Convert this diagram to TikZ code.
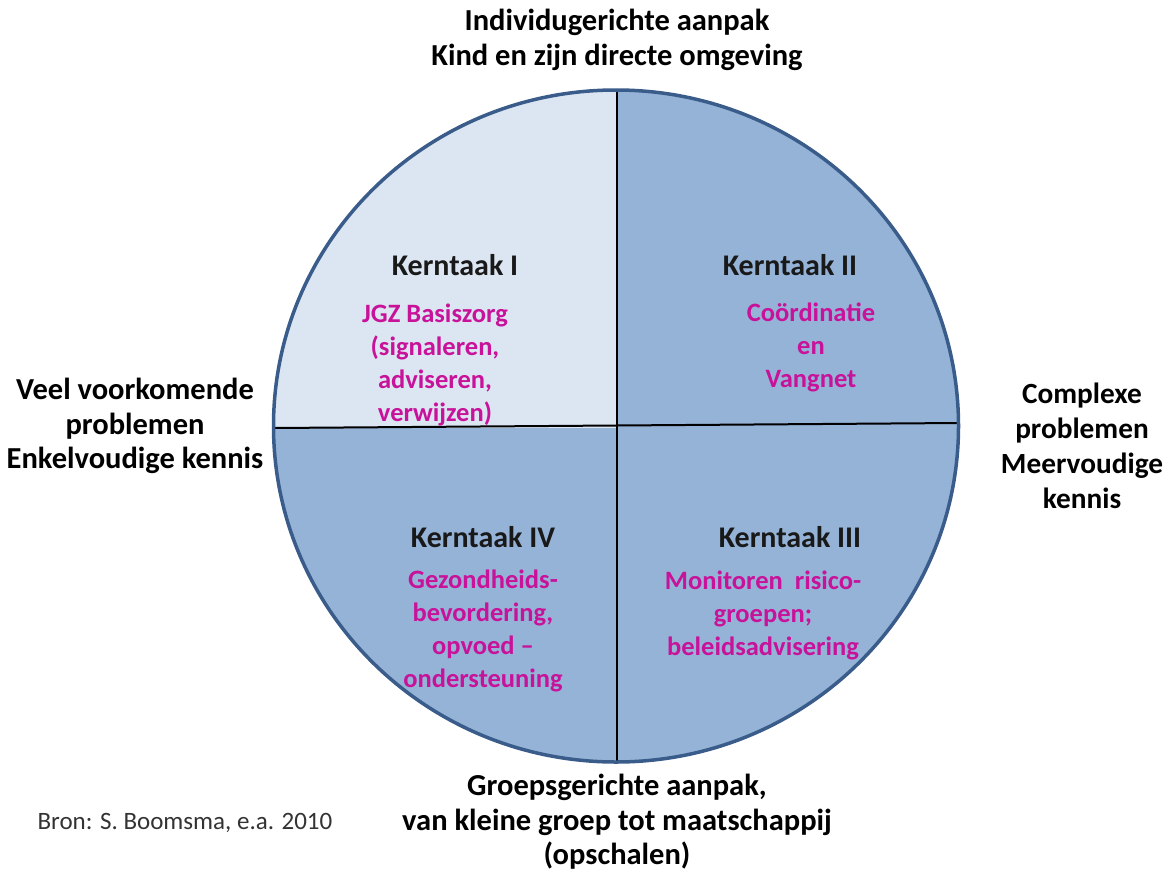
\documentclass[tikz,border=0pt]{standalone}
\usepackage{fontspec}
\setmainfont{Carlito}
\definecolor{lightq}{HTML}{DCE6F2}
\definecolor{darkq}{HTML}{95B3D7}
\definecolor{rim}{HTML}{3A5C8A}
\definecolor{mag}{HTML}{C8129A}
\tikzset{
  lbl/.style={font=\bfseries\fontsize{30.5}{34.5}\selectfont, align=center, text=black, inner sep=0pt},
  head/.style={font=\bfseries\fontsize{30}{34}\selectfont, text=black!90, inner sep=0pt},
  task/.style={font=\bfseries\fontsize{26.5}{33}\selectfont, align=center, text=mag, inner sep=0pt},
}
\begin{document}
\begin{tikzpicture}[x=1pt,y=-1pt]
\useasboundingbox (0,0) rectangle (1169,873);
\coordinate (c) at (616,426);
% quadrants
\fill[darkq] (c) ellipse [x radius=342.5, y radius=336];
\begin{scope}
  \clip (0,0) rectangle (617,427);
  \fill[lightq] (c) ellipse [x radius=342.5, y radius=336];
\end{scope}
% dividing lines
\coordinate (vt) at (617,90);
\coordinate (vb) at (617,762);
\coordinate (hl) at (274,428);
\coordinate (hr) at (958,423);
\draw[black, line width=2pt] (vt) -- (vb);
\draw[black, line width=2pt] (hl) -- (hr);
\draw[rim, line width=3.5pt] (c) ellipse [x radius=342.5, y radius=336];
% outer labels
\node[lbl, anchor=center] (top) at (617,40) {Individugerichte aanpak\\Kind en zijn directe omgeving};
\node[lbl] (left) at (135,426) {Veel voorkomende\\problemen\\Enkelvoudige kennis};
\node[lbl, font=\bfseries\fontsize{29.3}{35}\selectfont] (right) at (1082,446) {Complexe\\problemen\\Meervoudige\\kennis};
\node[lbl] (bottom) at (617,822) {Groepsgerichte aanpak,\\van kleine groep tot maatschappij\\(opschalen)};
\node[font=\fontsize{25}{30}\selectfont, text=black!80, inner sep=0pt] (bron) at (185,823) {Bron: S. Boomsma, e.a. 2010};
% quadrant texts
\node[head] (k1) at (455,265) {Kerntaak I};
\node[task] (t1) at (435,365) {JGZ Basiszorg\\(signaleren,\\adviseren,\\verwijzen)};
\node[head] (k2) at (790,265) {Kerntaak II};
\node[task] (t2) at (811,347) {Coördinatie\\en\\Vangnet};
\node[head] (k4) at (483,537) {Kerntaak IV};
\node[task] (t4) at (483,631) {Gezondheids-\\bevordering,\\opvoed --\\ondersteuning};
\node[head] (k3) at (790,537) {Kerntaak III};
\node[task] (t3) at (763,615) {Monitoren\ \ risico-\\groepen;\\beleidsadvisering};
\end{tikzpicture}
\end{document}
